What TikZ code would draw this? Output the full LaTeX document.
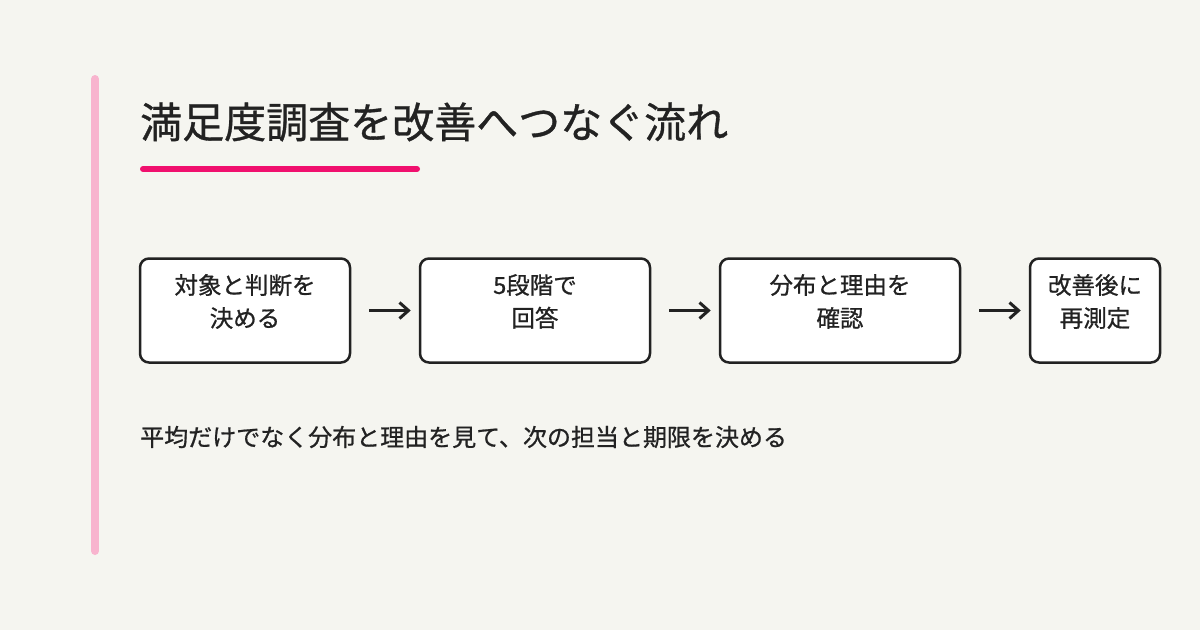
\documentclass[tikz,border=0pt]{standalone}
\usepackage{fontspec}
\setmainfont{Noto Sans CJK JP}
\newfontfamily\med{Noto Sans CJK JP}[FakeBold=0.8]
\usetikzlibrary{arrows.meta}
\definecolor{bg}{HTML}{F5F5F0}
\definecolor{ink}{HTML}{222222}
\definecolor{barpink}{HTML}{F8B4CE}
\definecolor{hot}{HTML}{F0106E}
\begin{document}
\begin{tikzpicture}[x=1pt,y=-1pt,
  box/.style={draw=ink,line width=2.5pt,fill=white,rounded corners=9pt,inner sep=0pt,align=center,font=\med\fontsize{23.5}{33}\selectfont,text=ink,text depth=20pt},
  arr/.style={draw=ink,line width=3pt,-{Straight Barb[length=9pt,width=16pt,line width=3pt]}}]
\fill[bg] (0,0) rectangle (1200,630);
\useasboundingbox (0,0) rectangle (1200,630);
\draw[barpink,line width=8pt,line cap=round] (95,79) -- (95,551);
\node[anchor=west,text=ink,font=\med\fontsize{42}{44}\selectfont,inner sep=0pt] (title) at (140,122) {満足度調査を改善へつなぐ流れ};
\draw[hot,line width=6pt,line cap=round] (143,169) -- (417,169);
\node[box,minimum width=210pt,minimum height=104pt] (b1) at (245,310.5) {対象と判断を\\決める};
\node[box,minimum width=230pt,minimum height=104pt] (b2) at (535,310.5) {5段階で\\回答};
\node[box,minimum width=240pt,minimum height=104pt] (b3) at (840,310.5) {分布と理由を\\確認};
\node[box,minimum width=130pt,minimum height=104pt] (b4) at (1095,310.5) {改善後に\\再測定};
\draw[arr] ([xshift=18pt]b1.east) -- ([xshift=-8pt]b2.west);
\draw[arr] ([xshift=18pt]b2.east) -- ([xshift=-8pt]b3.west);
\draw[arr] ([xshift=18pt]b3.east) -- ([xshift=-8pt]b4.west);
\node[anchor=west,text=ink,font=\med\fontsize{24}{24}\selectfont,inner sep=0pt] (note) at (140,437) {平均だけでなく分布と理由を見て、次の担当と期限を決める};
\end{tikzpicture}
\end{document}
